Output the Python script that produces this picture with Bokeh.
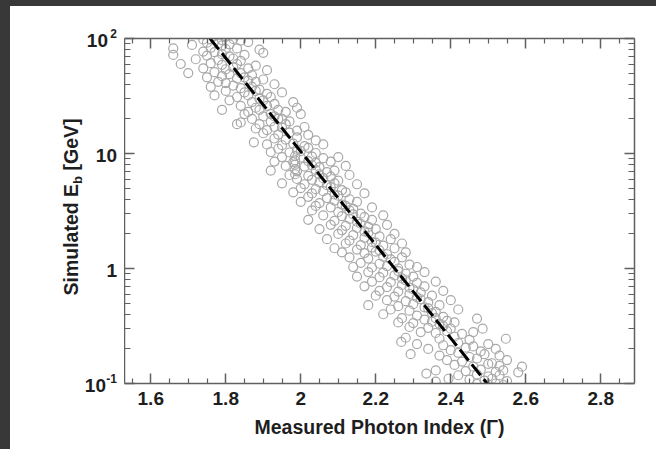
import math
from bokeh.plotting import figure
from bokeh.models import (Range1d, FixedTicker, LinearAxis, LogAxis, Div,
                          CustomJSTickFormatter, ColumnDataSource)
from bokeh.layouts import column, row
from bokeh.embed import file_html
from bokeh.resources import INLINE

# ---------------- data (Gamma, E_b [GeV]) ----------------
points_hi = [
    (1.77, 105), (1.80, 104),
    (1.74, 98), (1.79, 97), (1.82, 99), (1.84, 96),
    (1.75, 92), (1.78, 91), (1.86, 93),
    (1.71, 88), (1.79, 87), (1.81, 89),
    (1.66, 82), (1.76, 83), (1.80, 81), (1.83, 82), (1.89, 80),
    (1.74, 77), (1.77, 76), (1.90, 75),
    (1.66, 72), (1.75, 71), (1.79, 73), (1.81, 70), (1.85, 72),
    (1.72, 66), (1.78, 65), (1.82, 67), (1.84, 64),
    (1.68, 60), (1.76, 61), (1.79, 59), (1.83, 60), (1.88, 58),
    (1.74, 55), (1.80, 54), (1.82, 56), (1.86, 55), (1.91, 53),
    (1.70, 50), (1.77, 51), (1.81, 49), (1.84, 50), (1.87, 48),
    (1.75, 46), (1.79, 47), (1.83, 45), (1.85, 46), (1.90, 44),
    (1.78, 42), (1.80, 41), (1.86, 43), (1.88, 42), (1.93, 40),
    (1.76, 38), (1.82, 39), (1.84, 37), (1.87, 38), (1.89, 36),
    (1.80, 35), (1.85, 34), (1.88, 35), (1.91, 33), (1.95, 34),
    (1.77, 32), (1.83, 31), (1.86, 32), (1.89, 30), (1.92, 31),
    (1.81, 29), (1.87, 28), (1.90, 29), (1.93, 27), (1.98, 28),
    (1.84, 26), (1.88, 25), (1.91, 26), (1.94, 24), (1.99, 25),
    (1.79, 24), (1.86, 23), (1.89, 24), (1.92, 22), (1.96, 23),
    (1.85, 22), (1.90, 21), (1.93, 21), (1.95, 20), (2.00, 22),
    (1.87, 20), (1.92, 19), (1.94, 20), (1.97, 19),
    (1.83, 18), (1.89, 18), (1.93, 17), (1.96, 18), (2.01, 17),
    (1.84, 18.6), (1.88, 16.5), (1.91, 16), (1.95, 16.8), (1.99, 15.8),
    (1.90, 15), (1.94, 14.6), (1.97, 15.2), (2.02, 14.5),
    (1.875, 12.5), (1.93, 13.5), (1.96, 13.2), (1.99, 13.8), (2.04, 13),
    (1.91, 12), (1.95, 11.8), (1.98, 12.2), (2.01, 11.6), (2.06, 12),
    (1.94, 11), (1.99, 10.8), (2.02, 11.2),
    (1.92, 10.3), (1.97, 10.2), (2.00, 10.5), (2.04, 10.1),
]

points_mid = [
    (1.985, 9.5), (1.985, 8.7), (1.985, 8.0), (1.985, 7.3), (1.985, 6.6),
    (1.95, 9.3), (2.00, 9.2), (2.03, 9.4), (2.06, 9.1), (2.10, 9.3),
    (1.93, 8.5), (1.98, 8.4), (2.02, 8.6), (2.04, 8.3), (2.08, 8.5),
    (1.96, 7.8), (2.01, 7.7), (2.03, 7.9), (2.05, 7.6), (2.12, 7.8),
    (1.92, 7.1), (1.99, 7.0), (2.04, 7.2), (2.07, 6.9), (2.09, 7.1),
    (1.97, 6.5), (2.02, 6.4), (2.05, 6.6), (2.08, 6.3), (2.13, 6.5),
    (1.99, 6.0), (2.03, 5.9), (2.06, 6.1), (2.10, 5.8),
    (1.95, 5.5), (2.01, 5.4), (2.05, 5.6), (2.07, 5.3), (2.09, 5.5), (2.15, 5.4),
    (2.00, 5.0), (2.04, 4.9), (2.08, 5.1), (2.11, 4.8),
    (1.98, 4.6), (2.03, 4.5), (2.06, 4.7), (2.09, 4.4), (2.12, 4.6), (2.17, 4.5),
    (2.02, 4.2), (2.07, 4.1), (2.10, 4.3), (2.13, 4.0),
    (2.00, 3.8), (2.05, 3.7), (2.09, 3.9), (2.11, 3.6), (2.15, 3.8),
    (2.04, 3.5), (2.08, 3.4), (2.12, 3.5), (2.14, 3.3), (2.19, 3.4),
    (2.03, 3.2), (2.10, 3.1), (2.13, 3.2), (2.16, 3.0),
    (2.06, 2.9), (2.11, 2.85), (2.14, 2.95), (2.17, 2.8), (2.22, 2.9),
    (2.02, 2.65), (2.09, 2.6), (2.13, 2.7), (2.15, 2.55), (2.19, 2.65),
    (2.08, 2.4), (2.12, 2.35), (2.16, 2.45), (2.18, 2.3), (2.23, 2.4),
    (2.05, 2.2), (2.11, 2.15), (2.15, 2.25), (2.17, 2.1), (2.20, 2.2),
    (2.10, 2.0), (2.14, 1.95), (2.18, 2.05), (2.21, 1.9), (2.25, 2.0),
    (2.07, 1.8), (2.13, 1.75), (2.17, 1.85), (2.19, 1.7), (2.24, 1.8),
    (2.12, 1.65), (2.16, 1.6), (2.20, 1.68), (2.22, 1.58), (2.27, 1.65),
    (2.09, 1.5), (2.15, 1.46), (2.19, 1.52), (2.21, 1.44), (2.25, 1.5),
    (2.11, 1.38), (2.17, 1.36), (2.20, 1.4), (2.23, 1.33), (2.28, 1.38),
    (2.13, 1.25), (2.18, 1.22), (2.22, 1.27), (2.24, 1.2), (2.27, 1.25),
    (2.16, 1.12), (2.21, 1.1), (2.25, 1.14), (2.29, 1.08),
    (2.14, 1.03), (2.19, 1.02), (2.23, 1.05), (2.26, 1.0), (2.31, 1.03),
]

points_lo = [
    (2.18, 0.93), (2.22, 0.92), (2.26, 0.95), (2.28, 0.9), (2.33, 0.93),
    (2.15, 0.85), (2.21, 0.84), (2.25, 0.87), (2.27, 0.82), (2.30, 0.85),
    (2.19, 0.77), (2.24, 0.76), (2.28, 0.79), (2.31, 0.75), (2.36, 0.77),
    (2.17, 0.70), (2.23, 0.69), (2.27, 0.72), (2.29, 0.68), (2.33, 0.70),
    (2.21, 0.64), (2.26, 0.63), (2.30, 0.66), (2.32, 0.62), (2.38, 0.64),
    (2.20, 0.58), (2.25, 0.57), (2.29, 0.60), (2.31, 0.56), (2.35, 0.58),
    (2.23, 0.53), (2.28, 0.52), (2.32, 0.54), (2.34, 0.51), (2.40, 0.53),
    (2.18, 0.48), (2.26, 0.47), (2.30, 0.49), (2.33, 0.46), (2.37, 0.48),
    (2.24, 0.44), (2.29, 0.43), (2.34, 0.45), (2.36, 0.42), (2.42, 0.44),
    (2.22, 0.40), (2.31, 0.39), (2.35, 0.41), (2.38, 0.38),
    (2.27, 0.37), (2.33, 0.36), (2.36, 0.37), (2.39, 0.35), (2.47, 0.367),
    (2.26, 0.34), (2.30, 0.335), (2.35, 0.345), (2.37, 0.33), (2.41, 0.34),
    (2.29, 0.31), (2.34, 0.305), (2.38, 0.315), (2.40, 0.30), (2.485, 0.30),
    (2.32, 0.28), (2.36, 0.275), (2.39, 0.285), (2.43, 0.27), (2.46, 0.28),
    (2.28, 0.25), (2.37, 0.245), (2.41, 0.255), (2.45, 0.24), (2.547, 0.245),
    (2.268, 0.23), (2.31, 0.22), (2.38, 0.215), (2.42, 0.225), (2.46, 0.21), (2.50, 0.22),
    (2.34, 0.20), (2.40, 0.195), (2.44, 0.205), (2.48, 0.19), (2.52, 0.20),
    (2.293, 0.18), (2.37, 0.175), (2.42, 0.185), (2.45, 0.17), (2.49, 0.18), (2.53, 0.175),
    (2.39, 0.16), (2.43, 0.155), (2.47, 0.165), (2.51, 0.15), (2.55, 0.16),
    (2.41, 0.145), (2.46, 0.14), (2.50, 0.148), (2.53, 0.142), (2.59, 0.14),
    (2.36, 0.13), (2.44, 0.128), (2.48, 0.132), (2.52, 0.126), (2.54, 0.13), (2.58, 0.125),
    (2.335, 0.122), (2.42, 0.118), (2.47, 0.12), (2.50, 0.115), (2.53, 0.118),
    (2.36, 0.104), (2.394, 0.11), (2.45, 0.108), (2.49, 0.106), (2.51, 0.11), (2.55, 0.105),
    (2.47, 0.099), (2.50, 0.098), (2.52, 0.10), (2.54, 0.097),
]

# dashed fit line end points
fit_gamma = [1.758, 2.497]
fit_eb = [100.0, 0.1]

# axis ticks
x_major = [1.6, 1.8, 2.0, 2.2, 2.4, 2.6, 2.8]
x_minor = [1.55, 1.65, 1.7, 1.75, 1.85, 1.9, 1.95, 2.05, 2.1, 2.15, 2.25, 2.3,
           2.35, 2.45, 2.5, 2.55, 2.65, 2.7, 2.75, 2.85]
y_major = [0.1, 1, 10, 100]
y_minor = [0.2, 0.3, 0.4, 0.5, 0.6, 0.7, 0.8, 0.9,
           2, 3, 4, 5, 6, 7, 8, 9,
           20, 30, 40, 50, 60, 70, 80, 90]
y_label_base = ["10", "1", "10", "10"]
y_label_exp = ["-1", "", "", "2"]

x_title = "Measured Photon Index (\u0393)"
y_title_parts = ["Simulated E", "b", " [GeV]"]

# ---------------- layout / style ----------------
FONT = "Liberation Sans"
TXT = "#1e1e1e"
AX = "#606060"
DARK = "#383838"
H = 443            # figure height (px)
TOP, BOT = 32, 66  # borders above / below the frame
LEFT_W = 114       # width of the label strip at the left
MAIN_W = 532
Y_LO, Y_HI = 0.1, 100.0
DEC_PX = (H - TOP - BOT) / math.log10(Y_HI / Y_LO)   # pixels per decade

pts = points_hi + points_mid + points_lo
src = ColumnDataSource(data=dict(g=[q[0] for q in pts], e=[q[1] for q in pts]))

# ---- main plot ----
p = figure(width=MAIN_W, height=H, margin=0,
           x_range=Range1d(1.53, 2.89), y_range=Range1d(Y_LO, Y_HI),
           y_axis_type="log", output_backend="svg", toolbar_location=None,
           min_border_left=0, min_border_right=22, min_border_top=TOP,
           min_border_bottom=BOT)
p.outline_line_color = None
p.xgrid.visible = False
p.ygrid.visible = False
p.background_fill_color = "white"
p.border_fill_color = "white"

p.scatter("g", "e", source=src, size=9, fill_color=None,
          line_color="#a8a8a8", line_width=1.2)
p.line(fit_gamma, fit_eb, line_color="black", line_width=3, line_dash="14 5")

xt = FixedTicker(ticks=x_major, minor_ticks=x_minor)
yt = FixedTicker(ticks=y_major, minor_ticks=y_minor)
blank = CustomJSTickFormatter(code="return ''")


def style_axis(ax, minor_len):
    ax.axis_line_color = AX
    ax.axis_line_width = 1.5
    ax.major_tick_line_color = AX
    ax.minor_tick_line_color = AX
    ax.major_tick_line_width = 1.5
    ax.minor_tick_line_width = 1.2
    ax.major_tick_in = 10
    ax.major_tick_out = 0
    ax.minor_tick_in = minor_len
    ax.minor_tick_out = 0


xa = p.xaxis[0]
xa.ticker = xt
xa.formatter = CustomJSTickFormatter(code="return (Math.round(tick*10)/10).toString()")
style_axis(xa, 5)
xa.major_label_text_font = FONT
xa.major_label_text_font_style = "bold"
xa.major_label_text_font_size = "19px"
xa.major_label_text_color = TXT
xa.major_label_standoff = 8
xa.axis_label = x_title
xa.axis_label_text_font = FONT
xa.axis_label_text_font_style = "bold"
xa.axis_label_text_font_size = "19.5px"
xa.axis_label_text_color = TXT
xa.axis_label_standoff = 8

ya = p.yaxis[0]
ya.ticker = yt
ya.formatter = blank
style_axis(ya, 6)
ya.major_label_standoff = 0

top = LinearAxis(ticker=xt, formatter=blank)
style_axis(top, 5)
top.major_label_standoff = 0
p.add_layout(top, "above")
right = LogAxis(ticker=yt, formatter=blank)
style_axis(right, 6)
right.major_label_standoff = 0
p.add_layout(right, "right")

# ---- left strip (HTML) with the y tick labels and the y title ----
parts = []
for v, base, exp in zip(y_major, y_label_base, y_label_exp):
    rowpx = TOP + (math.log10(Y_HI) - math.log10(v)) * DEC_PX
    rb = 7 if exp == "" else (18 if exp.startswith("-") else 16)
    parts.append(
        f'<span style="position:absolute;right:{rb}px;top:{rowpx - 6.6:.1f}px;'
        f'font-size:19px;line-height:19px;white-space:nowrap">{base}</span>')
    if exp:
        parts.append(
            f'<span style="position:absolute;right:7px;top:{rowpx - 10.2:.1f}px;'
            f'font-size:12px;line-height:12px;white-space:nowrap">{exp}</span>')
parts.append(
    '<div style="position:absolute;left:62px;top:201px;white-space:nowrap;'
    'font-size:19.5px;line-height:19.5px;'
    'transform:translate(-50%,-50%) rotate(-90deg)">'
    f'{y_title_parts[0]}<span style="font-size:13px;line-height:0;'
    f'vertical-align:-4px">{y_title_parts[1]}</span>'
    f'{y_title_parts[2].replace(" ", "&nbsp;", 1)}</div>')
html = (f'<div style="position:relative;width:{LEFT_W}px;height:{H}px;'
        f'background:white;font-family:\'{FONT}\',Arial,sans-serif;'
        f'font-weight:bold;color:{TXT};overflow:hidden">' + "".join(parts) + "</div>")
lab = Div(text=html, width=LEFT_W, height=H, margin=0,
          styles={"background-color": "white"})

# dark screenshot edges (top and left)
top_band = Div(text="", width=656, height=6, margin=0,
               styles={"background-color": DARK})
left_band = Div(text="", width=10, height=H, margin=0,
                styles={"background-color": DARK})

layout = column(top_band, row(left_band, lab, p, spacing=0, margin=0),
                width=656, height=449, spacing=0, margin=0,
                styles={"background-color": "white"})

open("out.html", "w").write(file_html(layout, INLINE))
